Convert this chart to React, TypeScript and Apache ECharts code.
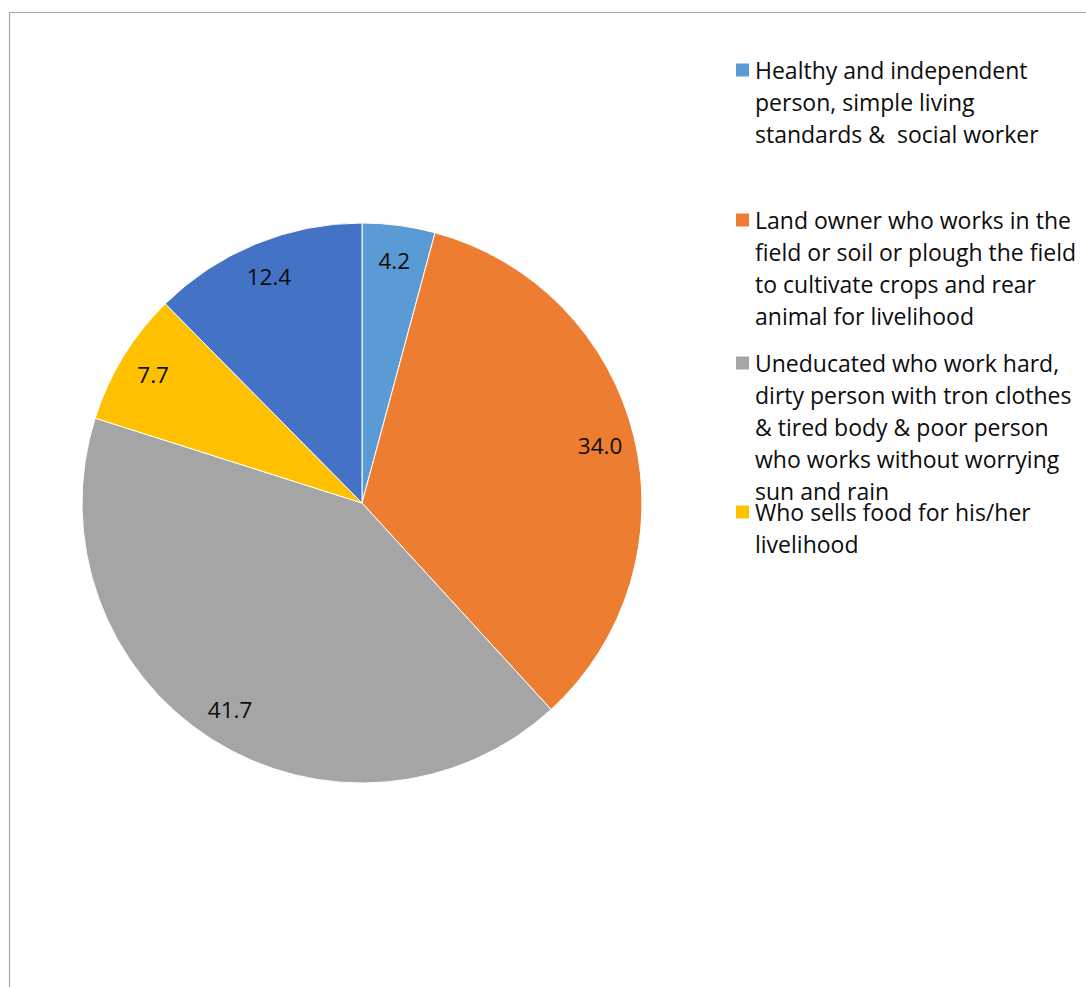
import React, { useEffect, useRef } from "react";
import * as echarts from "echarts";

const legendLines: string[][] = [
  ["Healthy and independent", "person, simple living", "standards &  social worker"],
  ["Land owner who works in the", "field or soil or plough the field", "to cultivate crops and rear", "animal for livelihood"],
  ["Uneducated who work hard,", "dirty person with tron clothes", "& tired body & poor person", "who works without worrying", "sun and rain"],
  ["Who sells food for his/her", "livelihood"],
];
const categories: string[] = [...legendLines.map((l) => l.join(" ")), "Other"];
const values: number[] = [4.2, 34.0, 41.7, 7.7, 12.4];
const colors: string[] = ["#5B9BD5", "#ED7D31", "#A5A5A5", "#FFC000", "#4472C4"];
const legendTops: number[] = [-10, 108, 219, 464];

const FONT = "'Open Sans', 'Noto Sans', sans-serif";

export default function App() {
  const ref = useRef<HTMLDivElement>(null);
  useEffect(() => {
    if (!ref.current) return;
    const chart = echarts.init(ref.current, null, { renderer: "svg" });
    const data = categories.map((name, i) => ({ name, value: values[i], itemStyle: { color: colors[i] } }));
    const lineH = 32;
    const legends = legendLines.map((lines, i) => ({
      show: true,
      orient: "vertical",
      left: 734,
      top: legendTops[i],
      padding: 0,
      itemWidth: 15,
      itemHeight: 15,
      icon: "rect",
      selectedMode: false,
      data: [categories[i]],
      // leading blank lines keep the marker level with the first text line
      formatter: () => "\n".repeat(lines.length - 1) + lines.join("\n"),
      textStyle: {
        fontFamily: FONT,
        fontSize: 23,
        color: "#0d0d0d",
        lineHeight: lineH,
      },
    }));
    chart.setOption({
      animation: false,
      backgroundColor: "#ffffff",
      legend: legends,
      graphic: [
        {
          type: "rect",
          shape: { x: 9.5, y: 12.5, width: 1200, height: 1100 },
          style: { fill: "none", stroke: "#a6a6a6", lineWidth: 1.2 },
          silent: true,
        },
      ],
      series: [
        {
          type: "pie",
          center: [362, 503],
          radius: 280,
          startAngle: 90,
          clockwise: true,
          silent: true,
          label: { show: false },
          labelLine: { show: false },
          itemStyle: { borderColor: "#ffffff", borderWidth: 1 },
          data,
        },
        {
          type: "pie",
          center: [362, 503],
          radius: [204, 280],
          startAngle: 90,
          clockwise: true,
          silent: true,
          itemStyle: { color: "rgba(0,0,0,0)", borderWidth: 0 },
          label: {
            show: true,
            position: "inside",
            fontFamily: FONT,
            fontSize: 22.5,
            color: "#0d0d0d",
            formatter: (p: any) => Number(p.value).toFixed(1),
          },
          labelLine: { show: false },
          data: categories.map((name, i) => ({ name, value: values[i] })),
        },
      ],
    });
    return () => chart.dispose();
  }, []);
  return (
    <div
      ref={ref}
      style={{ position: "fixed", left: 0, top: 0, width: 1086, height: 987 }}
    />
  );
}
